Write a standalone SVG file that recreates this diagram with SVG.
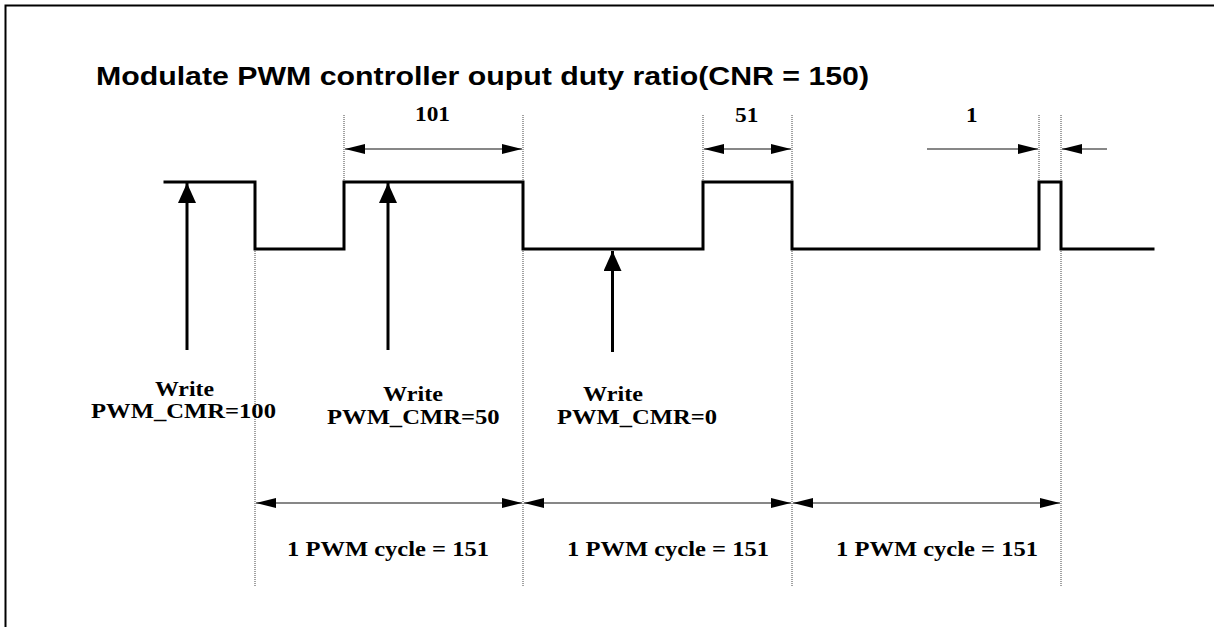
<svg xmlns="http://www.w3.org/2000/svg" width="1214" height="627" viewBox="0 0 1214 627">
<style>
.frame{fill:none;stroke:#000;stroke-width:2}
.wave{fill:none;stroke:#000;stroke-width:3;stroke-linejoin:miter;stroke-linecap:square}
.guide{stroke:#444;stroke-width:1;stroke-dasharray:1,1}
.dim{stroke:#111;stroke-width:1.2;fill:none}
.up{stroke:#000;stroke-width:3}
.t{font-family:"Liberation Serif","Times New Roman",serif;font-weight:bold;font-size:21px;fill:#000}
.title{font-family:"Liberation Sans",Arial,sans-serif;font-weight:bold;font-size:26px;fill:#000}
</style>
<defs>
<marker id="ah" viewBox="0 0 20 10" refX="20" refY="5" markerWidth="20" markerHeight="10" markerUnits="userSpaceOnUse" orient="auto-start-reverse">
<path d="M0,0 L20,5 L0,10 Z" fill="#000"/>
</marker>
<marker id="uh" viewBox="0 0 20 18" refX="20" refY="9" markerWidth="20" markerHeight="18" markerUnits="userSpaceOnUse" orient="auto">
<path d="M0,0 L20,9 L0,18 Z" fill="#000"/>
</marker>
</defs>
<rect width="1214" height="627" fill="#fff"/>
<path class="frame" d="M5.5,627 L5.5,5.5 L1214,5.5"/>
<text id="title" class="title" x="96" y="85" textLength="773" lengthAdjust="spacingAndGlyphs">Modulate PWM controller ouput duty ratio(CNR = 150)</text>
<g id="guides">
<line class="guide" x1="344" y1="115" x2="344" y2="182"/>
<line class="guide" x1="523" y1="115" x2="523" y2="587"/>
<line class="guide" x1="703" y1="115" x2="703" y2="182"/>
<line class="guide" x1="792" y1="115" x2="792" y2="587"/>
<line class="guide" x1="1039" y1="115" x2="1039" y2="182"/>
<line class="guide" x1="1061" y1="115" x2="1061" y2="587"/>
<line class="guide" x1="255" y1="249" x2="255" y2="587"/>
</g>
<g id="waveform">
<path class="wave" d="M165,182 H255 V249 H344 V182 H523 V249 H703 V182 H792 V249 H1039 V182 H1061 V249 H1153"/>
</g>
<g id="connectors">
<line class="dim" x1="345" y1="149" x2="522" y2="149" marker-start="url(#ah)" marker-end="url(#ah)"/>
<line class="dim" x1="704" y1="149" x2="791" y2="149" marker-start="url(#ah)" marker-end="url(#ah)"/>
<line class="dim" x1="927" y1="149" x2="1038" y2="149" marker-end="url(#ah)"/>
<line class="dim" x1="1107" y1="149" x2="1062" y2="149" marker-end="url(#ah)"/>
<line class="dim" x1="256" y1="503" x2="522" y2="503" marker-start="url(#ah)" marker-end="url(#ah)"/>
<line class="dim" x1="524" y1="503" x2="791" y2="503" marker-start="url(#ah)" marker-end="url(#ah)"/>
<line class="dim" x1="793" y1="503" x2="1060" y2="503" marker-start="url(#ah)" marker-end="url(#ah)"/>
<line class="up" x1="187" y1="350" x2="187" y2="183" marker-end="url(#uh)"/>
<line class="up" x1="388" y1="350" x2="388" y2="183" marker-end="url(#uh)"/>
<line class="up" x1="612.5" y1="352" x2="612.5" y2="251" marker-end="url(#uh)"/>
</g>
<g id="label-101"><text class="t" x="415" y="121" textLength="35" lengthAdjust="spacingAndGlyphs">101</text></g>
<g id="label-51"><text class="t" x="735" y="122" textLength="23.3" lengthAdjust="spacingAndGlyphs">51</text></g>
<g id="label-1"><text class="t" x="966" y="122" textLength="11.6" lengthAdjust="spacingAndGlyphs">1</text></g>
<g id="write-100">
<text class="t" x="155" y="396" textLength="59" lengthAdjust="spacingAndGlyphs">Write</text>
<text class="t" x="91" y="418" textLength="185" lengthAdjust="spacingAndGlyphs">PWM_CMR=100</text>
</g>
<g id="write-50">
<text class="t" x="383" y="401" textLength="60" lengthAdjust="spacingAndGlyphs">Write</text>
<text class="t" x="327" y="424" textLength="172.6" lengthAdjust="spacingAndGlyphs">PWM_CMR=50</text>
</g>
<g id="write-0">
<text class="t" x="583" y="401" textLength="60" lengthAdjust="spacingAndGlyphs">Write</text>
<text class="t" x="557" y="424" textLength="160" lengthAdjust="spacingAndGlyphs">PWM_CMR=0</text>
</g>
<g id="cycle-1"><text class="t" x="287" y="556" textLength="202" lengthAdjust="spacingAndGlyphs">1 PWM cycle = 151</text></g>
<g id="cycle-2"><text class="t" x="567" y="556" textLength="202" lengthAdjust="spacingAndGlyphs">1 PWM cycle = 151</text></g>
<g id="cycle-3"><text class="t" x="836" y="556" textLength="202" lengthAdjust="spacingAndGlyphs">1 PWM cycle = 151</text></g>
</svg>
